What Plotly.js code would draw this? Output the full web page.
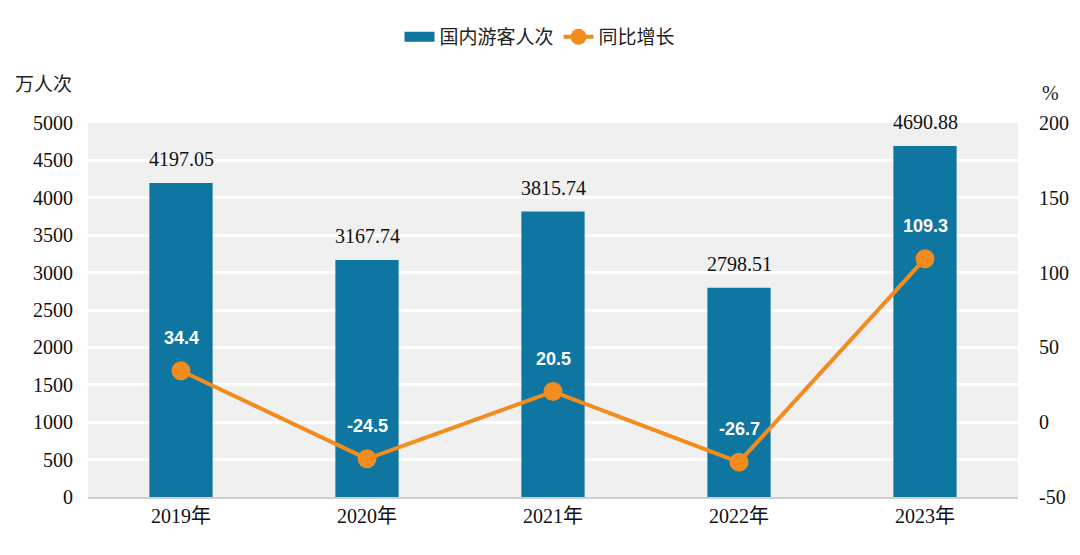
<!DOCTYPE html>
<html><head><meta charset="utf-8">
<script src="https://cdn.plot.ly/plotly-3.0.1.min.js"></script>
<style>body{margin:0;background:#fff}#c{width:1080px;height:555px}</style>
</head><body><div id="c"></div>
<script>
const categories = ["2019年","2020年","2021年","2022年","2023年"];
const visitors = [4197.05, 3167.74, 3815.74, 2798.51, 4690.88];
const growth = [34.4, -24.5, 20.5, -26.7, 109.3];
const leftTicks = [0,500,1000,1500,2000,2500,3000,3500,4000,4500,5000];
const rightTicks = [-50,0,50,100,150,200];

const serif = 'Times New Roman, Liberation Serif, Noto Sans CJK SC, serif';
const barColor = '#0e76a0';

const bars = {
  type:'bar', x:categories, y:visitors, name:'国内游客人次', showlegend:false,
  marker:{color:barColor}, width:0.34, hoverinfo:'none'
};
const barLegend = {
  type:'scatter', mode:'lines', x:[null], y:[null], name:'国内游客人次',
  line:{color:barColor, width:12}, hoverinfo:'none'
};
const line = {
  type:'scatter', mode:'lines+markers', x:categories, y:growth, yaxis:'y2', name:'同比增长',
  line:{color:'#f28c1e', width:4}, marker:{color:'#f28c1e', size:19}, cliponaxis:false, hoverinfo:'none'
};
const anns = categories.map((c,i)=>({
  x:c, y:growth[i], xref:'x', yref:'y2', text:String(growth[i]), showarrow:false,
  yshift:33, font:{family:'Liberation Sans, Arial, sans-serif', size:18, color:'#fff', weight:'bold'}
}));
categories.forEach((c,i)=>anns.push({
  x:c, y:visitors[i], xref:'x', yref:'y', text:visitors[i].toFixed(2), showarrow:false,
  yshift:24, font:{family:serif, size:20, color:'#111'}
}));
anns.push({xref:'paper', yref:'paper', x:-0.015, y:1.07, xanchor:'right', yanchor:'bottom', text:'万人次', showarrow:false, font:{family:serif, size:19, color:'#222'}});
anns.push({xref:'paper', yref:'paper', x:1.035, y:1.045, xanchor:'center', yanchor:'bottom', text:'%', showarrow:false, font:{family:serif, size:20, color:'#222'}});

const tf = {family:serif, size:20, color:'#111'};
const layout = {
  width:1080, height:555, margin:{l:88, r:62, t:123, b:58},
  font:{family:serif, size:18, color:'#111'},
  paper_bgcolor:'#fff', plot_bgcolor:'#f0f0f0',
  showlegend:true,
  legend:{orientation:'h', x:0.5, xanchor:'center', xref:'container', yref:'container', y:1-37/555, yanchor:'middle', font:{family:serif, size:19, color:'#222'}},
  xaxis:{showgrid:false, showline:true, linecolor:'#cfcfcf', linewidth:2, ticks:'', tickfont:tf, fixedrange:true},
  yaxis:{range:[0,5000], tickvals:leftTicks, showgrid:true, gridcolor:'#ffffff', gridwidth:3, zeroline:false, ticks:'', tickfont:tf, ticklabelstandoff:14},
  yaxis2:{range:[-50,200], tickvals:rightTicks, ticktext:rightTicks.map(String), overlaying:'y', side:'right', showgrid:false, zeroline:false, ticks:'', tickfont:tf, ticklabelstandoff:20},
  annotations:anns
};
Plotly.newPlot('c',[bars,barLegend,line],layout,{displayModeBar:false, staticPlot:true});
</script></body></html>
